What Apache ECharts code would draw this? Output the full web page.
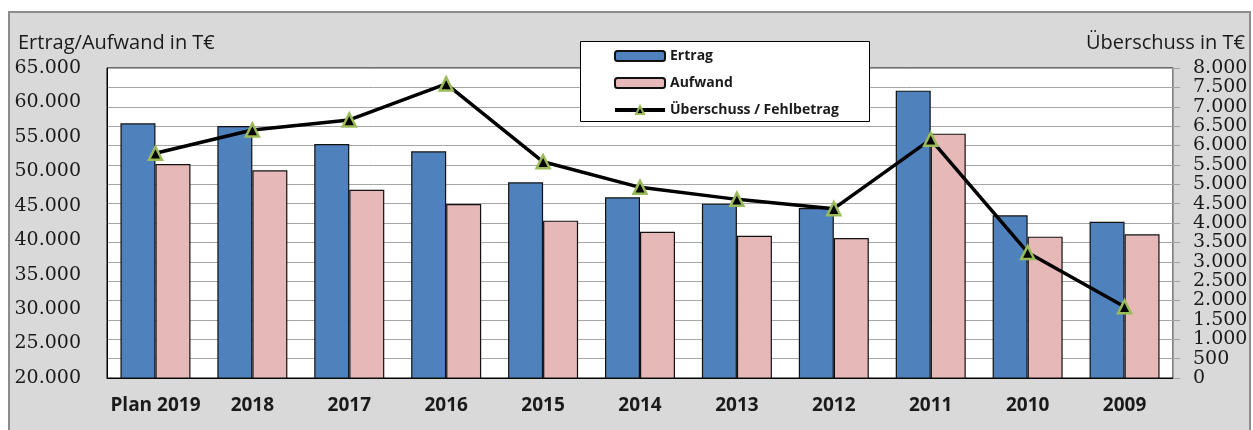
<!DOCTYPE html>
<html>
<head>
<meta charset="utf-8">
<script src="https://cdn.jsdelivr.net/npm/echarts@6/dist/echarts.min.js"></script>
<style>
html,body{margin:0;padding:0;background:#fff;}
#c{width:1253px;height:430px;}
</style>
</head>
<body>
<div id="c"></div>
<script>
const categories = ['Plan 2019','2018','2017','2016','2015','2014','2013','2012','2011','2010','2009'];
const ertrag = [56970, 56580, 53970, 52900, 48400, 46230, 45310, 44680, 61710, 43610, 42690];
const aufwand = [51070, 50150, 47330, 45260, 42840, 41240, 40660, 40320, 55470, 40520, 40860];
const ueberschuss = [5800, 6400, 6660, 7590, 5580, 4920, 4610, 4370, 6160, 3240, 1840];
const leftTitle = 'Ertrag/Aufwand in T€';
const rightTitle = 'Überschuss in T€';

function fmt(v){
  return String(v).replace(/\B(?=(\d{3})+(?!\d))/g, '.');
}

const chart = echarts.init(document.getElementById('c'), null, {renderer:'canvas'});
chart.setOption({
  backgroundColor: '#ffffff',
  animation: false,
  graphic: [
    {type:'rect', z:-10, shape:{x:9, y:12, width:1241, height:430}, style:{fill:'#d9d9d9', stroke:'#8c8c8c', lineWidth:2}},
    {type:'text', z:50, left:18, top:33, style:{text:leftTitle, font:'20px "Open Sans"', fill:'#1a1a1a'}},
    {type:'text', z:50, right:8, top:33, style:{text:rightTitle, font:'20px "Open Sans"', fill:'#1a1a1a'}},
    {type:'rect', z:100, shape:{x:580.5, y:41.5, width:289, height:80}, style:{fill:'#ffffff', stroke:'#000000', lineWidth:1}}
  ],
  legend: {
    z: 200,
    orient: 'vertical',
    left: 608,
    top: 44,
    itemWidth: 50,
    itemHeight: 10,
    itemGap: 13,
    textStyle: {fontFamily:'Open Sans', fontSize:14, color:'#1a1a1a', fontWeight:'bold'},
    data: [
      {name:'Ertrag'},
      {name:'Aufwand'},
      {name:'Überschuss / Fehlbetrag', lineStyle:{width:4, color:'#000'}}
    ]
  },
  grid: {
    left: 107, right: 80, top: 68, bottom: 52,
    show: true, backgroundColor:'#ffffff', borderColor:'#000000', borderWidth:1
  },
  xAxis: {
    type: 'category',
    data: categories,
    axisLine: {lineStyle:{color:'#000', width:1}},
    axisTick: {show:false},
    axisLabel: {fontFamily:'Open Sans', fontWeight:'bold', fontSize:19, color:'#1a1a1a', margin:18, interval:0}
  },
  yAxis: [
    {
      type:'value', min:20000, max:65000, interval:5000, position:'left',
      axisLine:{show:true, lineStyle:{color:'#000'}},
      axisTick:{show:false},
      splitLine:{show:false},
      axisLabel:{fontFamily:'DejaVu Serif', fontSize:19, color:'#1a1a1a', margin:26, formatter:fmt}
    },
    {
      type:'value', min:0, max:8000, interval:500, position:'right',
      axisLine:{show:true, lineStyle:{color:'#a0a0a0'}},
      axisTick:{show:true, length:7, lineStyle:{color:'#a0a0a0'}},
      splitLine:{show:true, lineStyle:{color:'#a6a6a6', width:1}},
      axisLabel:{fontFamily:'DejaVu Serif', fontSize:19, color:'#1a1a1a', margin:20, align:'left', formatter:fmt}
    }
  ],
  series: [
    {
      name:'Ertrag', type:'bar', yAxisIndex:0, data:ertrag,
      barWidth:35, barGap:'0%',
      itemStyle:{color:'#4f81bd', borderColor:'#111111', borderWidth:1.2}
    },
    {
      name:'Aufwand', type:'bar', yAxisIndex:0, data:aufwand,
      barWidth:35, barGap:'0%',
      itemStyle:{color:'#e6b9b8', borderColor:'#111111', borderWidth:1.2}
    },
    {
      name:'Überschuss / Fehlbetrag', type:'line', yAxisIndex:1, data:ueberschuss,
      z:5,
      symbol:'triangle', symbolSize:13,
      color:'#000',
      lineStyle:{color:'#000', width:3.5},
      itemStyle:{color:'#000', borderColor:'#9bbb59', borderWidth:2.5}
    }
  ]
});
</script>
</body>
</html>
